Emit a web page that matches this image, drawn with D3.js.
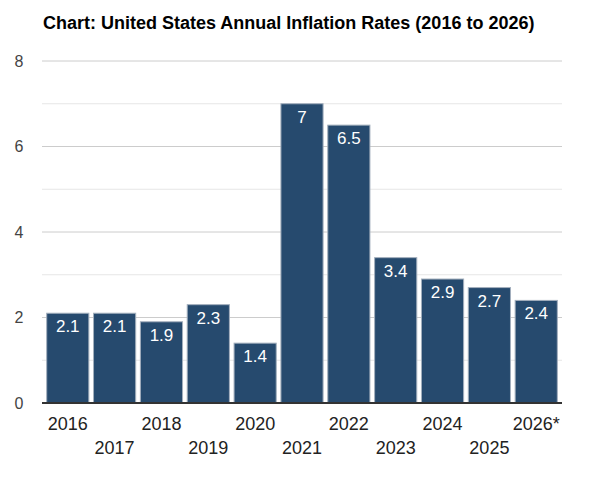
<!DOCTYPE html>
<html lang="en">
<head>
    <meta charset="UTF-8">
    <title>US inflation bars</title>
    <script src="https://cdn.jsdelivr.net/npm/d3@7"></script>
    <style>
        body { margin: 0; background: #fff; }
        text { font-family: "Liberation Sans", Arial, sans-serif; }
        .title { font-weight: bold; font-size: 18px; fill: #000; }
        .ylab { font-size: 16px; fill: #444; }
        .xlab { font-size: 18px; fill: #222; }
        .val { font-size: 17px; fill: #fff; }
    </style>
</head>
<body>
<svg width="589" height="479"></svg>
<script>
    // data
    let years = ["2016", "2017", "2018", "2019", "2020", "2021", "2022", "2023", "2024", "2025", "2026*"]
    let rates = [2.1, 2.1, 1.9, 2.3, 1.4, 7, 6.5, 3.4, 2.9, 2.7, 2.4]
    let yTicks = [0, 2, 4, 6, 8]
    let yMinor = [1, 3, 5, 7]

    let svg = d3.select('svg')
    let plot = {left: 42, right: 562, top: 61, bottom: 403}

    svg.append('text').attr('class', 'title')
        .attr('x', 43).attr('y', 29)
        .text('Chart: United States Annual Inflation Rates (2016 to 2026)')

    let xScale = d3.scaleBand().domain(years)
        .range([plot.left, plot.right])
        .paddingInner(0.1).paddingOuter(0.1)
    let yScale = d3.scaleLinear().domain([0, 8]).range([plot.bottom, plot.top])

    // gridlines
    svg.append('g').selectAll('line').data(yMinor).join('line')
        .attr('x1', plot.left).attr('x2', plot.right)
        .attr('y1', d => yScale(d)).attr('y2', d => yScale(d))
        .attr('stroke', '#e6e6e6').attr('stroke-width', 1)
    svg.append('g').selectAll('line').data(yTicks.filter(d => d > 0)).join('line')
        .attr('x1', plot.left).attr('x2', plot.right)
        .attr('y1', d => yScale(d)).attr('y2', d => yScale(d))
        .attr('stroke', '#cccccc').attr('stroke-width', 1)

    // y labels
    svg.append('g').selectAll('text').data(yTicks).join('text')
        .attr('class', 'ylab')
        .attr('x', 19).attr('y', d => yScale(d))
        .attr('dy', '0.35em').attr('text-anchor', 'middle')
        .text(d => d)

    // bars
    let bars = svg.append('g').selectAll('g').data(years).join('g')
    bars.append('rect')
        .attr('x', d => xScale(d))
        .attr('width', xScale.bandwidth())
        .attr('y', (d, i) => yScale(rates[i]))
        .attr('height', (d, i) => yScale(0) - yScale(rates[i]))
        .attr('fill', '#264a6e')
        .attr('stroke', '#a3afbd').attr('stroke-width', 1)
    bars.append('text').attr('class', 'val')
        .attr('x', d => xScale(d) + xScale.bandwidth() / 2)
        .attr('y', (d, i) => yScale(rates[i]) + 19)
        .attr('text-anchor', 'middle')
        .text((d, i) => rates[i])

    // baseline
    svg.append('line')
        .attr('x1', plot.left).attr('x2', plot.right)
        .attr('y1', yScale(0)).attr('y2', yScale(0))
        .attr('stroke', '#333').attr('stroke-width', 2)

    // x labels, staggered in two rows
    svg.append('g').selectAll('text').data(years).join('text')
        .attr('class', 'xlab')
        .attr('x', d => xScale(d) + xScale.bandwidth() / 2)
        .attr('y', (d, i) => i % 2 == 0 ? 430 : 454)
        .attr('text-anchor', 'middle')
        .text(d => d)
</script>
</body>
</html>
